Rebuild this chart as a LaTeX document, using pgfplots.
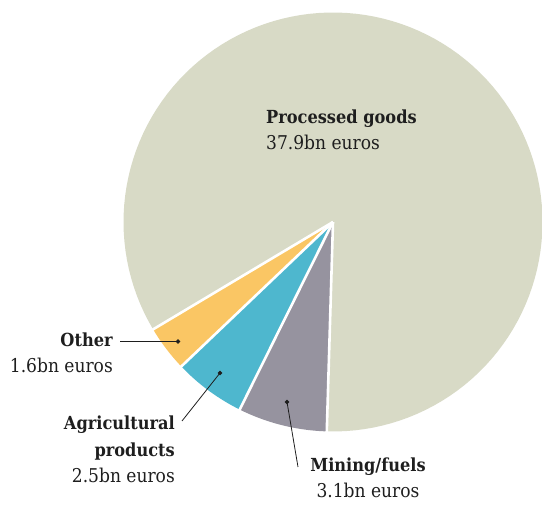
\documentclass[border=0pt]{standalone}
\usepackage{pgfplots}
\pgfplotsset{compat=1.18}
\usepackage{pgfplotstable}
\usepackage{fontspec}
\setmainfont{DejaVu Serif Condensed}
\definecolor{procC}{HTML}{D8DAC6}
\definecolor{othC}{HTML}{FAC664}
\definecolor{agrC}{HTML}{4EB7CE}
\definecolor{minC}{HTML}{96939F}
\definecolor{txtC}{HTML}{1E1E1E}
\newcommand\lbl{\fontsize{18}{26.5}\selectfont}
\newcommand\rg[1]{{\fontsize{19}{26.5}\selectfont #1}}
\begin{document}
\begin{tikzpicture}
% values in bn euros
\pgfmathsetmacro\vP{37.9}
\pgfmathsetmacro\vO{1.6}
\pgfmathsetmacro\vA{2.5}
\pgfmathsetmacro\vM{3.1}
\pgfmathsetmacro\tot{\vP+\vO+\vA+\vM}
\pgfmathsetmacro\aA{268.3}
\pgfmathsetmacro\aB{\aA+360*\vP/\tot}
\pgfmathsetmacro\aC{\aB+360*\vO/\tot}
\pgfmathsetmacro\aD{\aC+360*\vA/\tot}
\pgfmathsetmacro\aE{\aD+360*\vM/\tot}
\def\cx{333}\def\cy{283}\def\R{209.5}
\begin{axis}[hide axis, scale only axis, width=542pt, height=505pt,
  xmin=0, xmax=542, ymin=0, ymax=505, clip=true]
\path (axis cs:0,0) rectangle (axis cs:542,505);
\fill[procC] (axis cs:\cx,\cy) -- plot[domain=\aA:\aB, samples=120] ({\cx+\R*cos(\x)},{\cy+\R*sin(\x)}) -- cycle;
\fill[othC] (axis cs:\cx,\cy) -- plot[domain=\aB:\aC, samples=20] ({\cx+\R*cos(\x)},{\cy+\R*sin(\x)}) -- cycle;
\fill[agrC] (axis cs:\cx,\cy) -- plot[domain=\aC:\aD, samples=20] ({\cx+\R*cos(\x)},{\cy+\R*sin(\x)}) -- cycle;
\fill[minC] (axis cs:\cx,\cy) -- plot[domain=\aD:\aE, samples=20] ({\cx+\R*cos(\x)},{\cy+\R*sin(\x)}) -- cycle;
\foreach \a in {\aA,\aB,\aC,\aD}{
  \edef\tmp{\noexpand\draw[white, line width=2.6pt] (axis cs:\cx,\cy) -- (axis cs:{\cx+(\R+3)*cos(\a)},{\cy+(\R+3)*sin(\a)});}\tmp
}
% leader lines
\addplot[txtC, line width=0.8pt, mark=*, mark size=1.7pt, mark indices={2}] coordinates {(120,163.5) (178,163.5)};
\addplot[txtC, line width=0.8pt, mark=*, mark size=1.7pt, mark indices={2}] coordinates {(182,84) (220,132)};
\addplot[txtC, line width=0.8pt, mark=*, mark size=1.7pt, mark indices={2}] coordinates {(298,38) (287,103)};
% labels
\node[text=txtC, inner sep=0pt, anchor=base west, align=left, font=\lbl] at (axis cs:266,355) {\textbf{Processed goods}\\\rg{37.9bn euros}};
\node[text=txtC, inner sep=0pt, anchor=base east, align=right, font=\lbl] at (axis cs:113,132) {\textbf{Other}\\\rg{1.6bn euros}};
\node[text=txtC, inner sep=0pt, anchor=base east, align=right, font=\lbl] at (axis cs:175,22) {\textbf{Agricultural}\\\textbf{products}\\\rg{2.5bn euros}};
\node[text=txtC, inner sep=0pt, anchor=base, align=center, font=\lbl] at (axis cs:368,7) {\textbf{Mining/fuels}\\\rg{3.1bn euros}};
\end{axis}
\end{tikzpicture}
\end{document}
